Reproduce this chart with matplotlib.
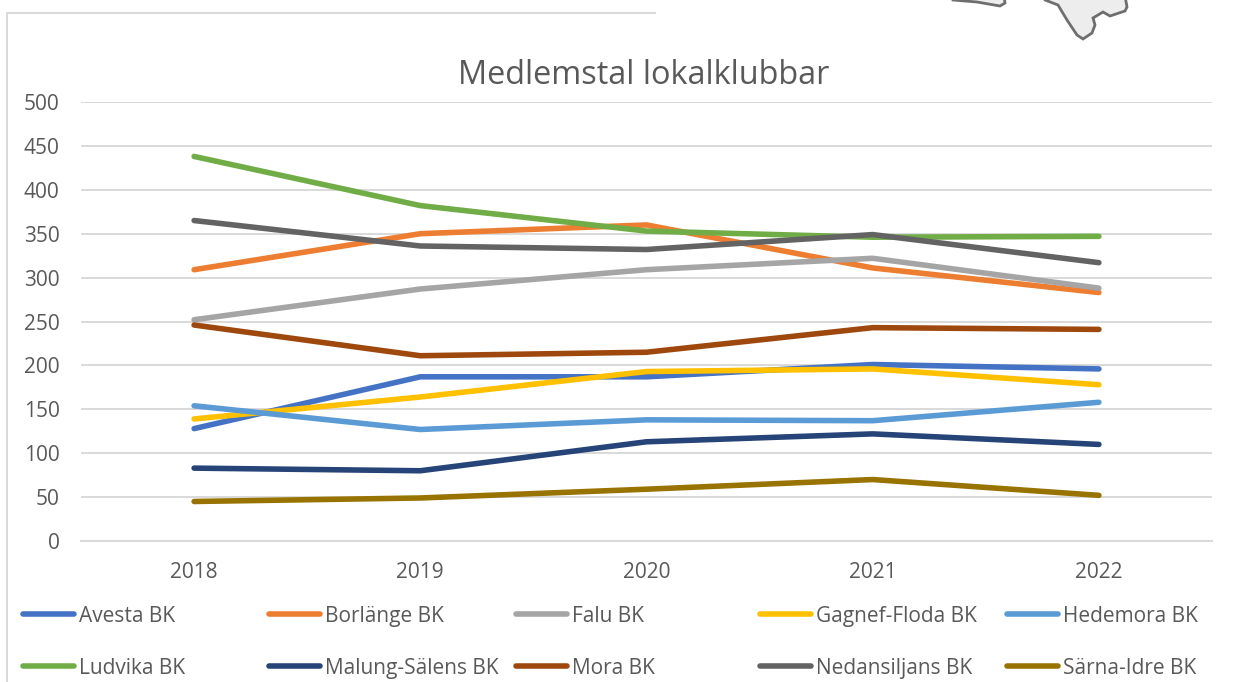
import matplotlib
matplotlib.use('Agg')
import matplotlib.pyplot as plt
from matplotlib.lines import Line2D
from matplotlib.patches import Polygon

plt.rcParams['font.family'] = ['Open Sans', 'DejaVu Sans']

years = ['2018', '2019', '2020', '2021', '2022']
avesta = [128, 187, 187, 201, 196]
borlange = [309, 350, 360, 311, 283]
falu = [252, 287, 309, 322, 288]
gagnef = [139, 164, 193, 196, 178]
hedemora = [154, 127, 138, 137, 158]
ludvika = [438, 382, 353, 346, 347]
malung = [83, 80, 113, 122, 110]
mora = [246, 211, 215, 243, 241]
nedansiljan = [365, 336, 332, 349, 317]
sarna = [45, 49, 59, 70, 52]

names = ['Avesta BK', 'Borlänge BK', 'Falu BK', 'Gagnef-Floda BK', 'Hedemora BK',
         'Ludvika BK', 'Malung-Sälens BK', 'Mora BK', 'Nedansiljans BK', 'Särna-Idre BK']
series = [avesta, borlange, falu, gagnef, hedemora, ludvika, malung, mora, nedansiljan, sarna]
colors = ['#4472C4', '#ED7D31', '#A5A5A5', '#FFC000', '#5B9BD5',
          '#70AD47', '#264478', '#9E480E', '#636363', '#997300']

W, H = 1237, 682
fig = plt.figure(figsize=(W / 100, H / 100), dpi=100)
ax = fig.add_axes([81 / W, 1 - 541 / H, (1212 - 81) / W, (541 - 102) / H])

for vals, c, n in zip(series, colors, names):
    ax.plot(range(len(years)), vals, color=c, lw=4, label=n,
            solid_capstyle='round', solid_joinstyle='round')

ax.set_xlim(-0.5, 4.5)
ax.set_ylim(0, 500)
ax.set_xticks(range(len(years)))
ax.set_xticklabels(years)
ax.set_yticks(range(0, 501, 50))
ax.grid(axis='y', color='#D9D9D9', lw=1.4)
ax.set_axisbelow(True)
for s in ['top', 'right', 'left']:
    ax.spines[s].set_visible(False)
ax.spines['bottom'].set_color('#D9D9D9')
ax.spines['bottom'].set_linewidth(1.4)
ax.tick_params(length=0, labelsize=15, labelcolor='#595959')
ax.tick_params(axis='x', pad=15)
ax.tick_params(axis='y', pad=15.5)

fig.text(644 / W, 1 - 76 / H, 'Medlemstal lokalklubbar', fontsize=23.4,
         color='#595959', ha='center', va='center')


def px(x, y):
    return x / W, 1 - y / H


# legend, placed by hand because the columns are uneven
legend_x = [20, 266, 513, 757, 1004]
legend_y = [614, 666]
for i, (n, c) in enumerate(zip(names, colors)):
    x0 = legend_x[i % 5]
    y0 = legend_y[i // 5]
    xa, ya = px(x0 + 3, y0)
    xb, _ = px(x0 + 54, y0)
    fig.add_artist(Line2D([xa, xb], [ya, ya], color=c, lw=4, solid_capstyle='round'))
    fig.text(*px(x0 + 59, y0), n, fontsize=15, color='#595959', va='center_baseline')

# frame of the chart box
fig.add_artist(Line2D([7 / W, 7 / W, 655 / W], [0, 1 - 13 / H, 1 - 13 / H], color='#D9D9D9', lw=1.4))

# pieces of the map at the top right
map_a = [(953, -4), (953, 0), (977, 2), (1000, 6), (1005, 3), (1004, -4)]
map_b = [(1045, -4), (1045, 0), (1058, 5), (1067, 20), (1077, 35), (1083, 39), (1092, 33),
         (1095, 25), (1093, 18), (1103, 12), (1110, 16), (1125, 11),
         (1127, 7), (1125, -4)]
for pts, fc in [(map_a, '#EDEDED'), (map_b, '#EDEDED')]:
    fig.add_artist(Polygon([px(x, y) for x, y in pts], closed=True, facecolor=fc,
                           edgecolor='#6E6E6E', lw=2, transform=fig.transFigure))

fig.savefig('out.png', dpi=100)
